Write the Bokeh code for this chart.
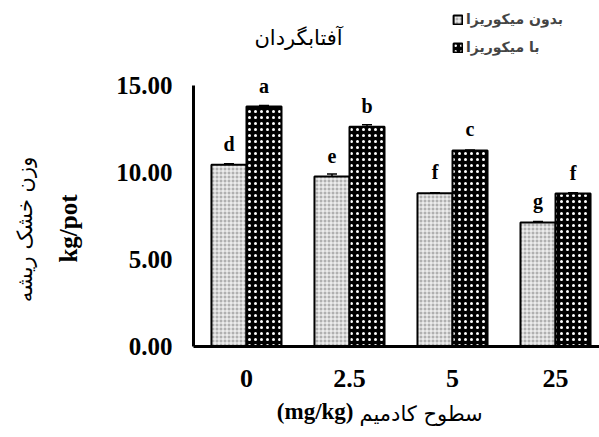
from bokeh.plotting import figure
from bokeh.models import (Range1d, FixedTicker, NumeralTickFormatter, ColumnDataSource,
                          Whisker, TeeHead, Label)
from bokeh.transform import dodge
from bokeh.core.properties import value
from bokeh.embed import file_html
from bokeh.resources import INLINE
import math

# ---- data ----
categories = ["0", "2.5", "5", "25"]
without_myco = [10.44, 9.77, 8.81, 7.13]
with_myco = [13.79, 12.63, 11.27, 8.79]
without_err = [0.06, 0.15, 0.03, 0.06]
with_err = [0.06, 0.12, 0.03, 0.04]
without_letters = ["d", "e", "f", "g"]
with_letters = ["a", "b", "c", "f"]
series_names = ["بدون میکوریزا", "با میکوریزا"]
title_text = "آفتابگردان"
y_label_fa = "وزن خشک ریشه"
y_label_unit = "kg/pot"
x_label_unit = "(mg/kg)"
x_label_fa = "سطوح کادمیم"
y_ticks = [0, 5, 10, 15]
y_max = 15

# ---- layout (canvas = frame, axes at fixed locations) ----
W, H = 599, 437
X_START, X_END = -2.388, 3.427
Y_START, Y_END = -5.23, 19.885
X_AXIS_AT = -0.5146

xs = list(range(len(categories)))
src = ColumnDataSource(dict(
    x=xs,
    wo=without_myco, w=with_myco,
    wo_up=[v + e for v, e in zip(without_myco, without_err)],
    w_up=[v + e for v, e in zip(with_myco, with_err)],
    wo_lab=without_letters, w_lab=with_letters,
))

SERIF = "Liberation Serif"
SANS = "DejaVu Sans"

p = figure(width=W, height=H, output_backend="svg", toolbar_location=None,
           x_range=Range1d(X_START, X_END), y_range=Range1d(Y_START, Y_END),
           min_border_left=0, min_border_right=0, min_border_top=0,
           min_border_bottom=0)
p.outline_line_color = None
p.grid.visible = False
p.background_fill_color = "white"
p.border_fill_color = "white"

off = 0.17
bw = 0.34
p.vbar(x=dodge("x", -off, range=p.x_range), top="wo", width=bw, source=src,
       fill_color="#b0b0b0", hatch_pattern="+", hatch_color="white",
       hatch_scale=4, hatch_weight=1, line_color="black", line_width=2,
       legend_label=series_names[0])
p.vbar(x=dodge("x", off, range=p.x_range), top="w", width=bw, source=src,
       fill_color="black", hatch_pattern=".", hatch_color="white",
       hatch_scale=6, hatch_weight=1.3, line_color="black", line_width=2,
       legend_label=series_names[1])

for col, up, d in [("wo", "wo_up", -off), ("w", "w_up", off)]:
    wk = Whisker(base=dodge("x", d, range=p.x_range), upper=up, lower=col, source=src,
                 upper_head=TeeHead(size=10, line_width=1.5, line_color="black"),
                 lower_head=None, line_width=1.5, line_color="black")
    p.add_layout(wk)

for col, lab, d in [("wo", "wo_lab", -off), ("w", "w_lab", off)]:
    p.text(x=dodge("x", d, range=p.x_range), y=col, text=lab, source=src,
           text_align="center", text_baseline="middle", y_offset=-21,
           text_font=value(SERIF), text_font_style="bold", text_font_size="20px",
           text_color="black")

# axes
p.yaxis.ticker = FixedTicker(ticks=y_ticks)
p.yaxis.formatter = NumeralTickFormatter(format="0.00")
p.yaxis.fixed_location = X_AXIS_AT
p.yaxis.bounds = (0, y_max)
p.xaxis.ticker = FixedTicker(ticks=xs)
p.xaxis.major_label_overrides = {i: c for i, c in zip(xs, categories)}
p.xaxis.fixed_location = 0
p.xaxis.bounds = (X_AXIS_AT, X_END)
for ax in (p.xaxis, p.yaxis):
    ax.axis_line_width = 3
    ax.axis_line_color = "black"
    ax.major_tick_line_color = None
    ax.minor_tick_line_color = None
    ax.major_label_text_font = SERIF
    ax.major_label_text_font_style = "bold"
    ax.major_label_text_color = "black"
p.yaxis.major_label_text_font_size = "25px"
p.xaxis.major_label_text_font_size = "26px"
p.yaxis.major_label_standoff = 15
p.xaxis.major_label_standoff = 18


def lab(x, y, text, font, size, bold=False, angle=0.0, align="center"):
    p.add_layout(Label(x=x, y=H - y, x_units="screen", y_units="screen", text=text,
                       angle=angle, text_align=align, text_baseline="middle",
                       text_font=font, text_font_size=size,
                       text_font_style="bold" if bold else "normal",
                       text_color="black"))


lab(298, 37, title_text, SANS, "21px")
lab(24, 229, y_label_fa, SANS, "21px", angle=math.pi / 2)
lab(68, 228, y_label_unit, SERIF, "25px", bold=True, angle=math.pi / 2)
lab(353, 411, x_label_unit, SERIF, "23px", bold=True, align="right")
lab(359, 413, x_label_fa, SANS, "21px", align="left")

lg = p.legend[0]
lg.location = (452, H - 55)
lg.glyph_width = 11
lg.glyph_height = 11
lg.label_text_font = SANS
lg.label_text_font_style = "bold"
lg.label_text_font_size = "14px"
lg.label_standoff = 3
lg.label_height = 14
lg.spacing = 12
lg.padding = 0
lg.margin = 0
lg.border_line_color = None
lg.background_fill_alpha = 0

open("out.html", "w").write(file_html(p, INLINE))
